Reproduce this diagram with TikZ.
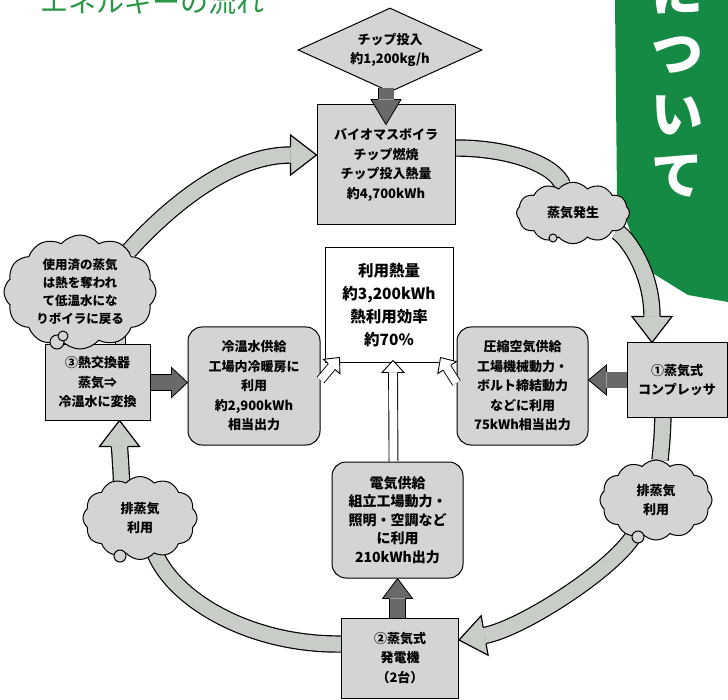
\documentclass[tikz,border=0pt]{standalone}
\usepackage{fontspec}
\setmainfont{Noto Sans CJK JP}
\usetikzlibrary{arrows, backgrounds, positioning, calc, shapes.geometric, shapes.symbols}
\definecolor{green1}{RGB}{40,150,70}
\definecolor{green2}{RGB}{20,138,68}
\definecolor{gray1}{RGB}{212,212,210}
\definecolor{gray2}{RGB}{200,205,200}
\definecolor{gray3}{RGB}{105,105,105}
\tikzset{pics/tip/.style args={#1/#2/#3/#4}{code={
  \fill[#4] (0,0) -- (-#1,#2/2) -- (-#1,-#2/2) -- cycle;
  \draw[line join=miter] (-#1,#3/2) -- (-#1,#2/2) -- (0,0) -- (-#1,-#2/2) -- (-#1,-#3/2);
}}}

\begin{document}
\begin{tikzpicture}[x=1pt, y=-1pt, line width=1pt,
                    font=\bfseries\fontsize{13}{19.5}\selectfont]
  \tikzstyle{box}=[rectangle, draw, fill=gray1, align=center, inner sep=1pt]
  \tikzstyle{rbox}=[box, rounded corners=14pt]
  \tikzstyle{puff}=[cloud, cloud puffs=12, cloud puff arc=100, draw, fill=gray1, align=center, inner sep=-6pt]
  \tikzstyle{band}=[draw=black, line width=1.2pt, double=gray2, double distance=15pt]
  \tikzstyle{dark}=[draw=black, line width=0.8pt, double=gray3, double distance=15pt]
  \tikzstyle{hollow}=[draw=black, line width=0.9pt, double=white, double distance=8pt]

  \useasboundingbox (0,0) rectangle (728,700);

  \node[box, diamond, aspect=2.2, minimum width=184pt, minimum height=84pt, inner sep=0pt] (Chip) at (390,50) {チップ投入\\約1,200kg/h};
  \node[box, minimum width=138pt, minimum height=120pt]   (Boil)  at (386,165)   {バイオマスボイラ\\チップ燃焼\\チップ投入熱量\\約4,700kWh};
  \node[puff, minimum width=113pt, minimum height=50pt]   (Steam) at (573,213)   {蒸気発生};
  \node[box, minimum width=100pt, minimum height=74pt]    (Comp)  at (677,380)   {①蒸気式\\コンプレッサ};
  \node[puff, minimum width=112pt, minimum height=80pt]   (ExR)   at (656,500)   {排蒸気\\利用};
  \node[box, minimum width=117pt, minimum height=80pt]    (Gen)   at (400,658)   {②蒸気式\\発電機\\（2台）};
  \node[puff, minimum width=114pt, minimum height=83pt]   (ExL)   at (140,518)   {排蒸気\\利用};
  \node[box, minimum width=105pt, minimum height=75pt]    (HX)    at (97.5,382.5) {③熱交換器\\蒸気⇒\\冷温水に変換};
  \node[puff, minimum width=152pt, minimum height=114pt, inner sep=-16pt,
        font=\bfseries\fontsize{12.5}{18}\selectfont]     (Used)  at (80,292)    {使用済の蒸気\\は熱を奪われ\\て低温水にな\\りボイラに戻る};
  \node[box, fill=white, minimum width=128pt, minimum height=115pt,
        font=\bfseries\fontsize{15.5}{23}\selectfont]   (Heat)  at (389,305.5) {利用熱量\\約3,200kWh\\熱利用効率\\約70\%};
  \node[rbox, minimum width=132pt, minimum height=118pt]  (Cold)  at (254,386)   {冷温水供給\\工場内冷暖房に\\利用\\約2,900kWh\\相当出力};
  \node[rbox, minimum width=131pt, minimum height=118pt]  (Air)   at (522.5,386) {圧縮空気供給\\工場機械動力・\\ボルト締結動力\\などに利用\\75kWh相当出力};
  \node[rbox, minimum width=131pt, minimum height=116pt,
        font=\bfseries\fontsize{14}{18.5}\selectfont]     (Elec)  at (397.5,520) {電気供給\\組立工場動力・\\照明・空調など\\に利用\\210kWh出力};

  \begin{scope}[on background layer]
    \fill[white] (0,0) rectangle (728,700);
    \fill[green2] (615,0) -- (728,0) -- (728,302) -- (688,295) -- (654,274) -- (632,236) -- (617,195) -- cycle;
    \node[text=white, font=\bfseries\fontsize{52}{61}\selectfont, align=center] (Banner) at (677,84) {に\\つ\\い\\て};
    \node[text=green1, font=\fontsize{28}{28}\selectfont] (Title) at (152,2) {エネルギーの流れ};
    \draw[fill=gray1] (115,334) rectangle (125,346);

    \draw[band] (Used.40) .. controls (175,200) and (235,155) .. ([xshift=-26pt,yshift=10pt]Boil.west);
    \draw[band] ([yshift=17pt]Boil.east) .. controls (510,148) and (555,165) .. (Steam);
    \draw[band] (Steam) .. controls (625,235) and (652,270) .. ([xshift=-25pt,yshift=26pt]Comp.north);
    \draw[band] ([xshift=-14pt]Comp.south) .. controls (662,440) .. (ExR);
    \draw[band] (ExR) .. controls (612,570) and (523,628) .. ([xshift=25.6pt,yshift=22.5pt]Gen.east);
    \draw[band] ([yshift=14pt]Gen.west) .. controls (250,645) and (175,600) .. (ExL);
    \draw[band] (ExL) .. controls (122,485) .. ([xshift=22pt,yshift=-26pt]HX.south);
    \pic[rotate=0,   line width=1.2pt] at ([yshift=10pt]Boil.west)  {tip=26/40/16.2/gray2};
    \pic[rotate=-90, line width=1.2pt] at ([xshift=-25pt]Comp.north) {tip=26/40/16.2/gray2};
    \pic[rotate=190, line width=1.2pt] at ([yshift=18pt]Gen.east)   {tip=26/40/16.2/gray2};
    \pic[rotate=90,  line width=1.2pt] at ([xshift=22pt]HX.south)   {tip=26/40/16.2/gray2};

    \draw[dark] (HX.east) -- ([xshift=-16pt]HX.east -| Cold.west);
    \pic[rotate=0, line width=0.8pt] at (HX.east -| Cold.west) {tip=16/30/15.8/gray3};
    \draw[dark] (Comp.west) -- ([xshift=18pt]Comp.west -| Air.east);
    \pic[rotate=180, line width=0.8pt] at (Comp.west -| Air.east) {tip=18/30/15.8/gray3};
    \draw[dark] (Gen.north -| Elec.south) -- ([yshift=-20pt]Elec.south);
    \pic[rotate=90, line width=0.8pt] at (Elec.south) {tip=20/30/15.8/gray3};
  \end{scope}

  \draw[dark] ([yshift=4pt]Chip.south -| Boil.north) -- ([yshift=5pt]Boil.north);
  \pic[rotate=-90, line width=0.8pt] at ([yshift=-20pt]Boil.north) {tip=25/30/15.8/gray3};

  \coordinate (w1a) at ([yshift=6pt]Cold.east);
  \coordinate (w1b) at ([xshift=15pt,yshift=6pt]Heat.south west);
  \coordinate (w2a) at ([yshift=3pt]Air.west);
  \coordinate (w2b) at ([xshift=-13pt,yshift=6pt]Heat.south east);
  \coordinate (w3a) at ([xshift=-4pt]Elec.north);
  \coordinate (w3b) at ([xshift=4pt,yshift=3pt]Heat.south);
  \draw[hollow] (w1a) -- ($(w1b)!12pt!(w1a)$);
  \pic[rotate=49, line width=0.9pt] at (w1b) {tip=12/22/8.9/white};
  \draw[hollow] (w2a) -- ($(w2b)!12pt!(w2a)$);
  \pic[rotate=123, line width=0.9pt] at (w2b) {tip=12/22/8.9/white};
  \draw[hollow] (w3a) -- ($(w3b)!12pt!(w3a)$);
  \pic[rotate=90, line width=0.9pt] at (w3b) {tip=12/22/8.9/white};

  \draw[fill=gray1] (553,238) circle (4pt);
  \draw[fill=gray1] (638,537) circle (6pt);
  \draw[fill=gray1] (120,556) circle (6pt);
  \draw[fill=gray1] (57,342) circle (7pt);
  \draw[fill=gray1] (63,336) circle (5pt);
\end{tikzpicture}
\end{document}
